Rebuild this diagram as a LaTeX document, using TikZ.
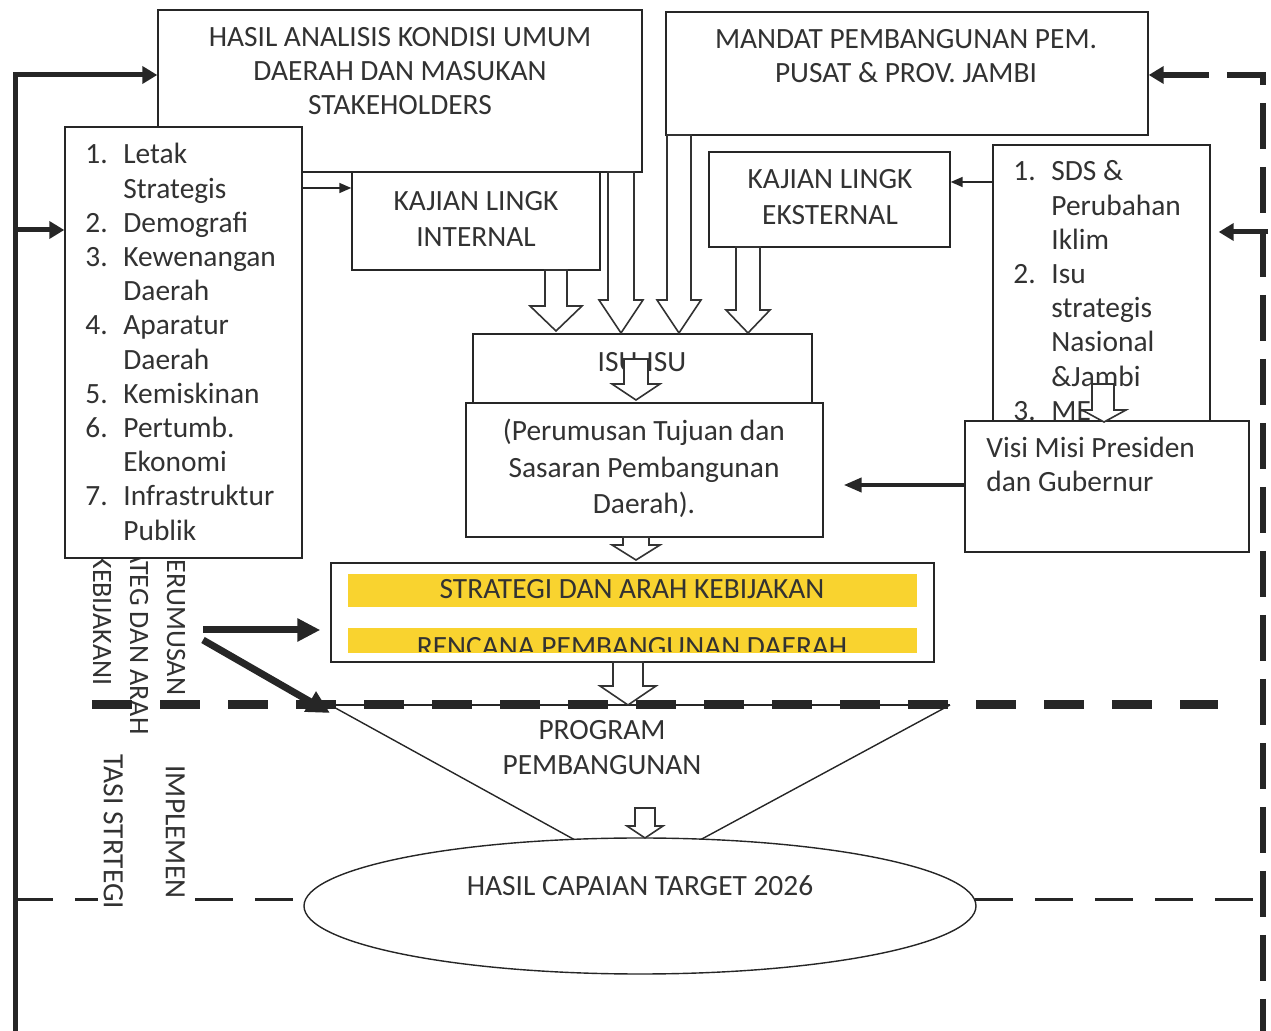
\documentclass[tikz,border=0pt]{standalone}
\usepackage{fontspec}
\setmainfont{Carlito}
\usepackage{xcolor}
\usepackage{tikz}
\usetikzlibrary{shapes,arrows.meta,positioning,fit}

\definecolor{textgray}{RGB}{50,50,50}
\definecolor{bargold}{RGB}{249,211,47}

\tikzset{
    box/.style={draw=black!85, line width=0.7pt, fill=white, inner sep=0pt},
    boxtext/.style={text=textgray, font=\fontsize{14.7}{17}\selectfont, align=center, inner sep=0pt, anchor=base},
    sidetext/.style={text=textgray, font=\fontsize{14}{18.5}\selectfont, align=center, inner sep=0pt, rotate=-90, anchor=base},
    hollowarrow/.style={draw=black!80, line width=0.8pt, fill=white},
    thinarrow/.style={draw=black!85, line width=0.8pt, -{Triangle[length=6pt,width=5pt]}},
    midarrow/.style={draw=black!85, line width=2pt, -{Triangle[length=9pt,width=7pt]}},
    fatarrow/.style={draw=black!85, line width=3.5pt, -{Triangle[length=11.5pt,width=11pt]}},
    feedline/.style={draw=black!85, line width=2.5pt},
    bigdash/.style={draw=black!85, line width=4.5pt, dash pattern=on 20pt off 14pt},
    middash/.style={draw=black!85, line width=1.5pt, dash pattern=on 19pt off 11pt}
}

\begin{document}
\begin{tikzpicture}[x=0.5pt,y=-0.5pt]
    \useasboundingbox (0,0) rectangle (1271,1031);

    % teks samping (atas)
    \node[sidetext] (perumusan) at (93,620) {PERUMUSAN\\STRATEG DAN ARAH\\KEBIJAKANI};

    % kotak atas
    \node[box, fit={(158,10) (642,172)}] (hasil) {};
    \node[boxtext] (hasiltext) at (400,115) {HASIL ANALISIS KONDISI UMUM\\DAERAH DAN MASUKAN\\STAKEHOLDERS};

    \node[box, fit={(666,12) (1148,135)}] (mandat) {};
    \node[boxtext] (mandattext) at (906,83) {MANDAT PEMBANGUNAN PEM.\\PUSAT \& PROV. JAMBI};

    % daftar kiri
    \node[box, fit={(65,127) (302,558)}] (faktor) {};
    \node[anchor=base west, inner sep=0pt, text=textgray, font=\fontsize{14.7}{17.1}\selectfont] (faktorlist) at (85,164) {%
        \begin{tabular}[t]{@{}p{19pt}@{}l@{}}
            1. & Letak\\ & Strategis\\
            2. & Demografi\\
            3. & Kewenangan\\ & Daerah\\
            4. & Aparatur\\ & Daerah\\
            5. & Kemiskinan\\
            6. & Pertumb.\\ & Ekonomi\\
            7. & Infrastruktur\\ & Publik
        \end{tabular}};

    % kajian lingkungan
    \node[box, fit={(352,172) (600,270)}] (internal) {};
    \node[boxtext, font=\fontsize{14.7}{18}\selectfont] (internaltext) at (476,247) {KAJIAN LINGK\\INTERNAL};

    \node[box, fit={(709,152) (950,247)}] (eksternal) {};
    \node[boxtext, font=\fontsize{14.7}{18}\selectfont] (eksternaltext) at (830,225) {KAJIAN LINGK\\EKSTERNAL};

    % daftar kanan
    \node[box, fit={(993,145) (1210,430)}] (isustrat) {};
    \node[anchor=base west, inner sep=0pt, text=textgray, font=\fontsize{14.7}{17.1}\selectfont] (isustratlist) at (1013,181) {%
        \begin{tabular}[t]{@{}p{19pt}@{}l@{}}
            1. & SDS \&\\ & Perubahan\\ & Iklim\\
            2. & Isu\\ & strategis\\ & Nasional\\ & \&Jambi\\
            3. & ME
        \end{tabular}};

    \node[box, fit={(965,421) (1249,552)}] (visimisi) {};
    \node[anchor=base west, inner sep=0pt, text=textgray, font=\fontsize{14.7}{17}\selectfont] (visimisitext) at (986,458) {%
        \begin{tabular}[t]{@{}l@{}}Visi Misi Presiden\\dan Gubernur\end{tabular}};

    % isu dan tujuan
    \node[box, fit={(473,334) (812,403)}] (isu) {};
    \node[boxtext] (isutext) at (642,372) {ISU-ISU};

    \node[box, fit={(466,403) (823,537)}] (tujuan) {};
    \node[boxtext, font=\fontsize{14.7}{18.25}\selectfont] (tujuantext) at (644,514) {(Perumusan Tujuan dan\\Sasaran Pembangunan\\Daerah).};

    % strategi
    \node[box, fit={(331,563) (934,662)}] (strategi) {};
    \fill[bargold] (348,574) rectangle (917,607);
    \fill[bargold] (348,628) rectangle (917,653);
    \node[boxtext] (strategitext) at (632,599) {STRATEGI DAN ARAH KEBIJAKAN};
    \begin{scope}
        \clip (348,628) rectangle (917,652);
        \node[boxtext] (rencanatext) at (632,657) {RENCANA PEMBANGUNAN DAERAH};
    \end{scope}

    % program
    \coordinate (funnelL) at (330,705);
    \coordinate (funnelR) at (950,705);
    \draw[black!85, line width=0.7pt] (funnelL) -- (funnelR);
    \draw[black!85, line width=0.7pt] (funnelL) -- (575,840);
    \draw[black!85, line width=0.7pt] (funnelR) -- (700,840);
    \draw[bigdash] (92,705) -- (1218,705);
    \node[boxtext, font=\fontsize{14.7}{17.5}\selectfont] (programtext) at (602,775) {PROGRAM\\PEMBANGUNAN};

    % hasil capaian
    \draw[middash] (15,900) -- (1263,900);
    \node[draw=black!85, line width=0.7pt, fill=white, ellipse, minimum width=336pt, minimum height=68pt, inner sep=0pt] (capaian) at (640,906) {};
    \node[boxtext] (capaiantext) at (640,896) {HASIL CAPAIAN TARGET 2026};
    \node[sidetext, fill=white, inner sep=3pt, font=\fontsize{14.7}{31}\selectfont] (implementasi) at (104,832) {IMPLEMEN\\TASI STRTEGI};

    % panah blok
    \draw[hollowarrow] (545,270) -- (545,306) -- (530,306) -- (556,331) -- (582,306) -- (567,306) -- (567,270) -- cycle;
    \draw[hollowarrow] (608,172) -- (608,300) -- (599,300) -- (621,333) -- (643,300) -- (634,300) -- (634,172) -- cycle;
    \draw[hollowarrow] (667,135) -- (667,300) -- (657,300) -- (679,333) -- (701,300) -- (691,300) -- (691,135) -- cycle;
    \draw[hollowarrow] (736,247) -- (736,310) -- (726,310) -- (748,333) -- (770,310) -- (760,310) -- (760,247) -- cycle;
    \draw[hollowarrow] (624,359) -- (624,384) -- (612,384) -- (636,400) -- (660,384) -- (648,384) -- (648,359) -- cycle;
    \draw[hollowarrow] (1092,384) -- (1092,410) -- (1082,410) -- (1104,422) -- (1126,410) -- (1114,410) -- (1114,384) -- cycle;
    \draw[hollowarrow] (623,537) -- (623,545) -- (612,545) -- (636,560) -- (660,545) -- (649,545) -- (649,537) -- cycle;
    \draw[hollowarrow] (613,662) -- (613,686) -- (600,686) -- (628,705) -- (656,686) -- (643,686) -- (643,662) -- cycle;
    \draw[hollowarrow] (635,808) -- (635,826) -- (627,826) -- (645,838) -- (663,826) -- (655,826) -- (655,808) -- cycle;

    % panah penghubung
    \draw[thinarrow] (faktor.east |- 0,188) -- (internal.west |- 0,188);
    \draw[thinarrow] (isustrat.west |- 0,182) -- (eksternal.east |- 0,182);
    \draw[midarrow] (visimisi.west |- 0,485) -- ([xshift=10pt]tujuan.east |- 0,485);
    \draw[fatarrow, shorten >=5pt] (203,630) -- (strategi.west |- 0,630);
    \draw[fatarrow] (203,640) -- ([yshift=-4pt]funnelL);

    % umpan balik
    \draw[feedline, -{Triangle[length=7.5pt,width=8.5pt]}] (15,1031) -- (15,75) -- (hasil.west |- 0,75);
    \draw[feedline, -{Triangle[length=7.5pt,width=8.5pt]}] (15,230) -- (faktor.west |- 0,230);
    \draw[feedline, line width=3pt, dash pattern=on 23pt off 9pt, {Triangle[length=7.5pt,width=8.5pt]}-] (mandat.east |- 0,75) -- (1263,75) -- (1263,1031);
    \draw[feedline, -{Triangle[length=7.5pt,width=8.5pt]}, shorten >=4pt] (1268,232) -- (isustrat.east |- 0,232);
\end{tikzpicture}
\end{document}
